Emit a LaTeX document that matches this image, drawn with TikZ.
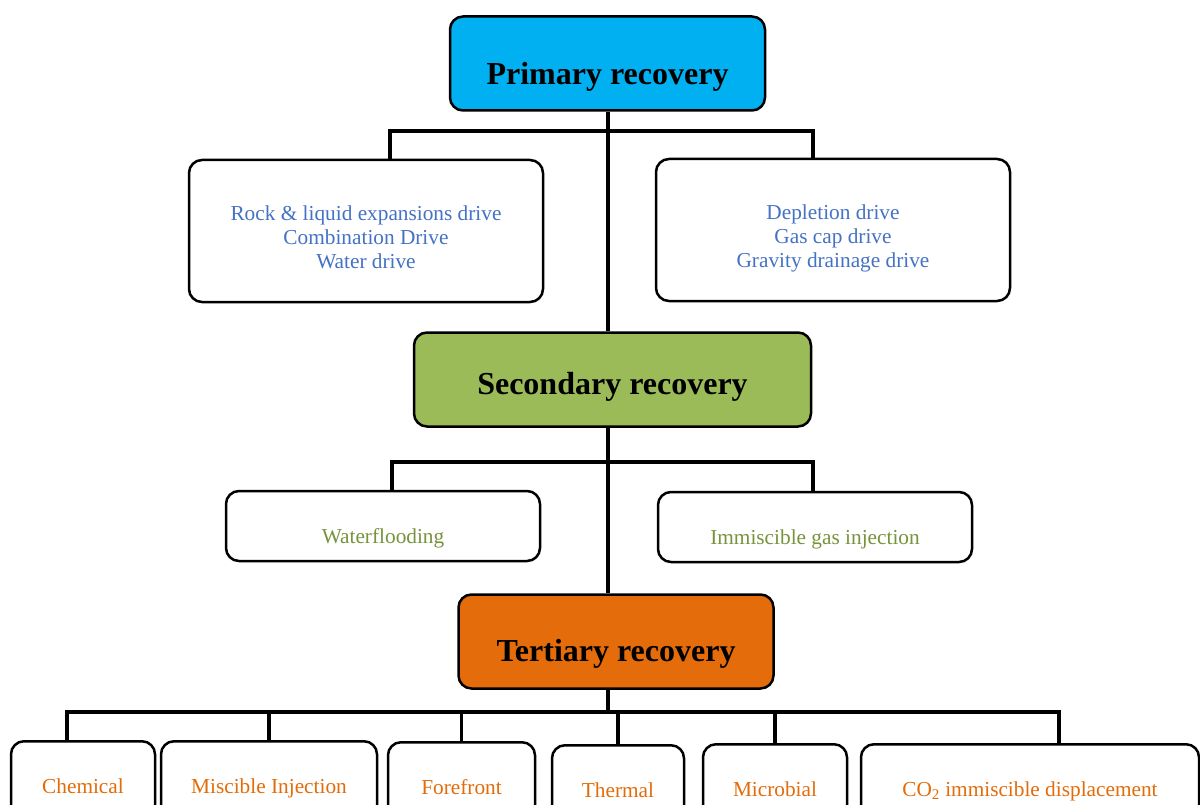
\documentclass[tikz,border=0pt]{standalone}
\usepackage{fontspec}
\setmainfont{Liberation Serif}
\definecolor{primfill}{HTML}{00B0F0}
\definecolor{secfill}{HTML}{9BBB59}
\definecolor{terfill}{HTML}{E46C0A}
\definecolor{drivetext}{HTML}{4472C4}
\definecolor{floodtext}{HTML}{77933C}
\definecolor{eortext}{HTML}{E36C09}
% three lines of a box, set below the middle
\newcommand\drivelines[1]{\raisebox{-9pt}[\height][\depth]{\begin{tabular}{@{}c@{}}#1\end{tabular}}}
\tikzset{
  box/.style={draw=black, line width=2.5pt, rounded corners=13pt, fill=white, inner sep=0pt},
  headbox/.style={box, minimum width=315pt, minimum height=94pt,
    font=\fontsize{32}{36}\selectfont\bfseries, text height=42pt, text depth=0pt},
  drivebox/.style={box, minimum width=354pt, minimum height=142pt,
    text=drivetext, font=\fontsize{21.3}{24}\selectfont},
  floodbox/.style={box, minimum width=314pt, minimum height=70pt, text=floodtext,
    font=\fontsize{21.3}{24}\selectfont, text height=34pt, text depth=0pt},
  eorbox/.style={box, anchor=north, minimum height=110pt, text=eortext,
    font=\fontsize{21.3}{24}\selectfont, text height=0pt, text depth=5pt},
  link/.style={line width=3.2pt}
}
\begin{document}
\begin{tikzpicture}[x=1pt,y=-1pt]%
% page frame, boxes of the last row run off the bottom
\useasboundingbox (0,0) rectangle (1200,805);
\clip (0,0) rectangle (1200,805);
\node[headbox, fill=primfill] (prim) at (607.5,63.5) {Primary recovery};
\node[drivebox] (rock) at (366,231) {\drivelines{Rock \& liquid expansions drive\\Combination Drive\\Water drive}};
\node[drivebox] (depl) at (833,230) {\drivelines{Depletion drive\\Gas cap drive\\Gravity drainage drive}};
\node[headbox, fill=secfill, minimum width=397pt, text height=30pt] (sec) at (612.5,379.5) {Secondary recovery};
\node[floodbox] (wflood) at (383,526) {Waterflooding};
\node[floodbox] (immis) at (815,527) {Immiscible gas injection};
\node[headbox, fill=terfill, text height=40pt] (ter) at (616,641.5) {Tertiary recovery};
\node[eorbox, minimum width=144pt] (chem) at (83,740) {Chemical};
\node[eorbox, minimum width=216pt] (misc) at (269,740) {Miscible Injection};
\node[eorbox, minimum width=147pt] (fore) at (461.5,741) {Forefront};
\node[eorbox, minimum width=132pt] (therm) at (618,744) {Thermal};
\node[eorbox, minimum width=144pt] (micro) at (775,743) {Microbial};
\node[eorbox, minimum width=338pt] (co2) at (1030,743) {CO\textsubscript{2} immiscible displacement};
% trunk
\coordinate (bar1) at (608,131);
\coordinate (bar2) at (608,462);
\coordinate (bar3) at (608,712);
\draw[link] (bar1 |- prim.south) -- (bar1 |- sec.north);
\draw[link] (bar2 |- sec.south) -- (bar2 |- ter.north);
\draw[link] (bar3 |- ter.south) -- (bar3);
% branches
\draw[link] ([xshift=24pt]rock.north) |- (bar1) -| ([xshift=-20pt]depl.north);
\draw[link] ([xshift=9pt]wflood.north) |- (bar2) -| ([xshift=-2pt]immis.north);
\draw[link] ([xshift=-16pt]chem.north) |- (bar3) -| ([xshift=29pt]co2.north);
\foreach \n in {misc,fore,therm,micro}
  \draw[link] (\n.north) -- (\n.north |- bar3);
\end{tikzpicture}
\end{document}
